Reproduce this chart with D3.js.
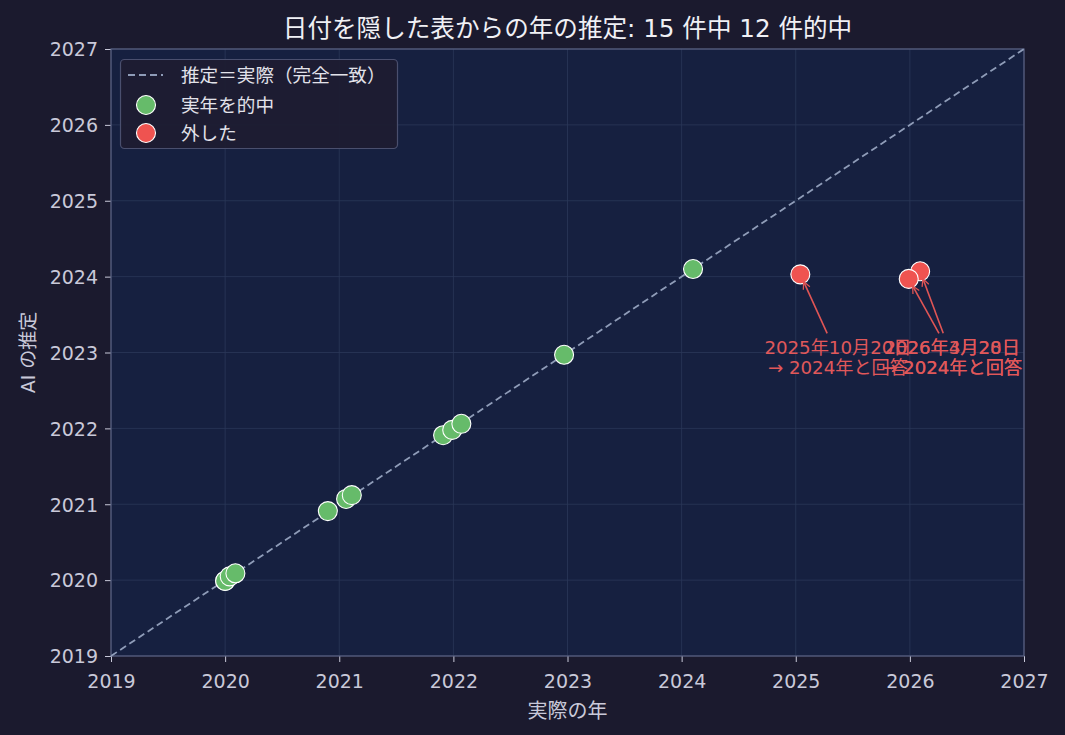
<!DOCTYPE html>
<html><head><meta charset="utf-8">
<script src="https://cdn.jsdelivr.net/npm/d3@7"></script>
<style>
html,body{margin:0;padding:0;background:#1b1a2e;}
svg{display:block;font-family:"DejaVu Sans","Noto Sans CJK JP",sans-serif;}
</style></head><body>
<svg id="c" width="1065" height="735"></svg>
<script>
// ---- data ----
const titleText = "日付を隠した表からの年の推定: 15 件中 12 件的中";
const xLabelText = "実際の年";
const yLabelText = "AI の推定";
const axisTicks = [2019,2020,2021,2022,2023,2024,2025,2026,2027];
const hitActual   = [2020.00,2020.00,2020.04,2020.09,2020.90,2021.06,2021.11,2021.91,2021.99,2022.07,2022.97,2024.10];
const hitEstimate = [2019.99,2019.99,2020.05,2020.09,2020.91,2021.07,2021.12,2021.91,2021.98,2022.06,2022.97,2024.10];
const missActual   = [2025.04,2026.09,2025.99];
const missEstimate = [2024.03,2024.07,2023.97];
const missLabels = ["2025年10月20日\n→ 2024年と回答","2026年4月20日\n→ 2024年と回答","2026年3月28日\n→ 2024年と回答"];
const legendLabels = ["推定＝実際（完全一致）","実年を的中","外した"];

// ---- layout ----
const svg = d3.select("#c");
const L=111,R=1024,T=49,B=656;
const x = d3.scaleLinear().domain([2019,2027]).range([L,R]);
const y = d3.scaleLinear().domain([2019,2027]).range([B,T]);
const tickCol="#c9c9d9", green="#66bb6a", red="#ef5350";

svg.append("rect").attr("x",L).attr("y",T).attr("width",R-L).attr("height",B-T).attr("fill","#162040");

// grid
const g = svg.append("g");
g.selectAll(".gx").data(axisTicks).join("line").attr("x1",d=>x(d)).attr("x2",d=>x(d)).attr("y1",T).attr("y2",B)
 .attr("stroke","#2b3758").attr("stroke-width",0.8);
g.selectAll(".gy").data(axisTicks).join("line").attr("y1",d=>y(d)).attr("y2",d=>y(d)).attr("x1",L).attr("x2",R)
 .attr("stroke","#2b3758").attr("stroke-width",0.8);

// axes
const xa = svg.append("g").attr("transform",`translate(0,${B})`).call(d3.axisBottom(x).tickValues(axisTicks).tickFormat(d3.format("d")).tickSize(6).tickSizeOuter(0));
const ya = svg.append("g").attr("transform",`translate(${L},0)`).call(d3.axisLeft(y).tickValues(axisTicks).tickFormat(d3.format("d")).tickSize(6).tickSizeOuter(0));
[xa,ya].forEach(a=>{a.select(".domain").remove();a.selectAll("line").attr("stroke",tickCol);
  a.selectAll("text").attr("fill",tickCol).style("font-size","19px").style("font-family","'DejaVu Sans',sans-serif");});
xa.selectAll("text").attr("y",0).attr("dy",0).attr("dominant-baseline","central").attr("transform","translate(0,25)");
ya.selectAll("text").attr("x",-13).attr("dy","0.36em");

// spines
svg.append("rect").attr("x",L).attr("y",T).attr("width",R-L).attr("height",B-T).attr("fill","none").attr("stroke","#5a6282").attr("stroke-width",1.2);

// diagonal
svg.append("line").attr("x1",x(2019)).attr("y1",y(2019)).attr("x2",x(2027)).attr("y2",y(2027))
 .attr("stroke","#8f9cb8").attr("stroke-width",1.8).attr("stroke-dasharray","7,4");

// hits
svg.append("g").selectAll("circle").data(hitActual.map((a,i)=>[a,hitEstimate[i]])).join("circle")
 .attr("cx",d=>x(d[0])).attr("cy",d=>y(d[1])).attr("r",9.5).attr("fill",green).attr("stroke","#fff").attr("stroke-width",1.1);

// misses
const missData = missActual.map((a,i)=>({a,e:missEstimate[i],label:missLabels[i]}));
svg.append("g").selectAll("circle").data(missData).join("circle")
 .attr("cx",d=>x(d.a)).attr("cy",d=>y(d.e)).attr("r",9.5).attr("fill",red).attr("stroke","#fff").attr("stroke-width",1.1);

// annotations
svg.append("defs").append("marker").attr("id","ah").attr("viewBox","0 0 10 10").attr("refX",9).attr("refY",5)
 .attr("markerWidth",9).attr("markerHeight",9).attr("markerUnits","userSpaceOnUse").attr("orient","auto")
 .append("path").attr("d","M1,1 L9,5 L1,9").attr("fill","none").attr("stroke","#e05555").attr("stroke-width",1.4);
const annG = svg.append("g");
missData.forEach(d=>{
  const cx = x(Math.round(d.a)+0.37), cy = y(2022.94);
  const px = x(d.a), py = y(d.e);
  const top = cy-21;
  const t = (cy-top)/(cy-py);
  const sx = cx + (px-cx)*t, sy = top;
  const len = Math.hypot(px-sx,py-sy);
  const ex = px - (px-sx)/len*8, ey = py - (py-sy)/len*8;
  annG.append("line").attr("x1",sx+(px-sx)/len*3).attr("y1",sy+(py-sy)/len*3).attr("x2",ex).attr("y2",ey)
    .attr("stroke","#e05555").attr("stroke-width",1.6).attr("marker-end","url(#ah)");
  const lines = d.label.split("\n");
  lines.forEach((s,i)=>annG.append("text").attr("x",cx).attr("y",cy+(i===0?-10:10)).attr("dy","0.36em")
    .attr("text-anchor","middle").attr("fill","#e0585a").style("font-size","18.2px").text(s));
});

// title & labels
svg.append("text").attr("x",(L+R)/2).attr("y",28).attr("dy","0.36em").attr("text-anchor","middle").attr("fill","#f0f0f5").style("font-size","24.6px").text(titleText);
svg.append("text").attr("x",(L+R)/2).attr("y",711).attr("dy","0.36em").attr("text-anchor","middle").attr("fill",tickCol).style("font-size","20px").text(xLabelText);
svg.append("text").attr("transform",`translate(28,${(T+B)/2}) rotate(-90)`).attr("dy","0.36em").attr("text-anchor","middle").attr("fill",tickCol).style("font-size","19px").text(yLabelText);

// legend
const lg = svg.append("g");
lg.append("rect").attr("x",120.5).attr("y",59.5).attr("width",277).attr("height",89).attr("rx",4)
 .attr("fill","#1d1c32").attr("fill-opacity",0.95).attr("stroke","#4a4f6e").attr("stroke-width",1.2);
lg.append("line").attr("x1",128).attr("x2",163).attr("y1",75).attr("y2",75).attr("stroke","#8f9cb8").attr("stroke-width",1.8).attr("stroke-dasharray","7,4");
lg.append("circle").attr("cx",146).attr("cy",105).attr("r",9.5).attr("fill",green).attr("stroke","#fff").attr("stroke-width",1.1);
lg.append("circle").attr("cx",146).attr("cy",133).attr("r",9.5).attr("fill",red).attr("stroke","#fff").attr("stroke-width",1.1);
lg.selectAll("text").data(legendLabels).join("text").attr("x",181).attr("y",(d,i)=>[75,105,133][i]).attr("dy","0.36em")
 .attr("fill","#e2e2ea").style("font-size","18.6px").text(d=>d);
</script>
</body></html>
